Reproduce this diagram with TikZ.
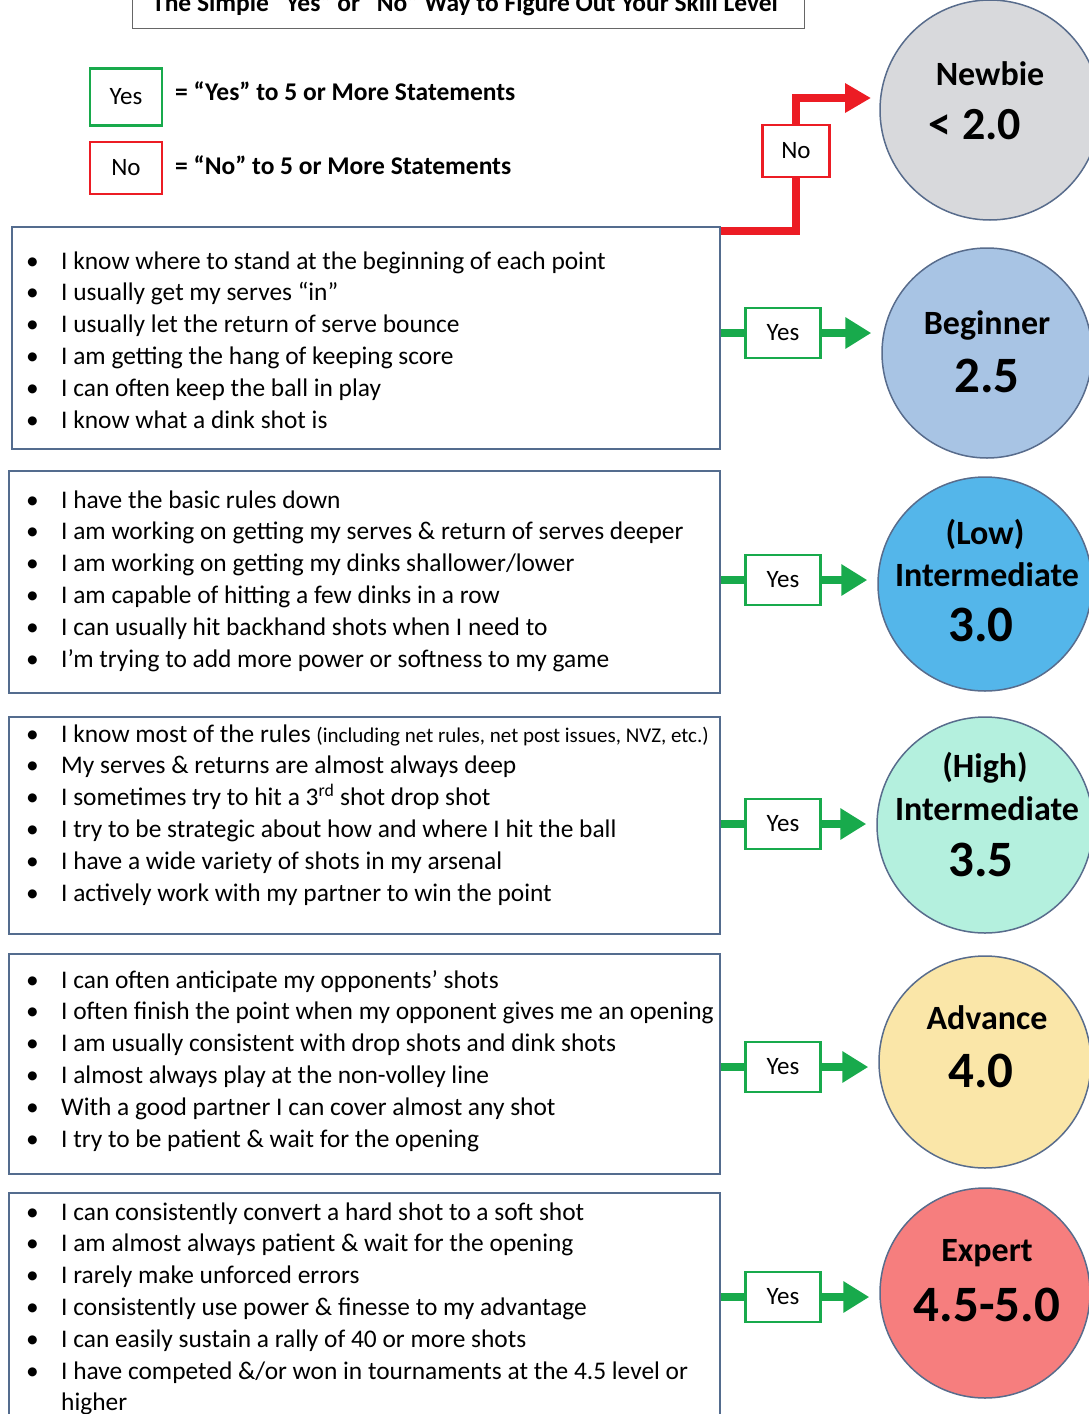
\documentclass[tikz,border=0pt]{standalone}
\usepackage{fontspec}
\setmainfont{Carlito}
\usetikzlibrary{arrows.meta}
\definecolor{boxblue}{RGB}{84,108,142}
\definecolor{circedge}{RGB}{88,108,140}
\definecolor{gyes}{RGB}{24,170,76}
\definecolor{rno}{RGB}{236,28,36}
\definecolor{cnew}{RGB}{216,217,220}
\definecolor{cbeg}{RGB}{168,196,228}
\definecolor{clow}{RGB}{84,182,234}
\definecolor{chigh}{RGB}{180,240,222}
\definecolor{cadv}{RGB}{250,230,168}
\definecolor{cexp}{RGB}{246,126,126}
\newcommand\bi{\makebox[35pt][l]{\textbullet}}
\newcommand\bodyfont{\fontsize{25.4}{31.8}\selectfont}
\begin{document}
\begin{tikzpicture}[x=1pt,y=-1pt,
  tbox/.style={draw=boxblue, line width=1.5pt, anchor=north west, inner sep=0},
  lines/.style={anchor=base west, inner sep=0},
  yesbox/.style={draw=gyes, line width=2.5pt, fill=white, minimum width=75pt, minimum height=50pt, inner sep=0, font=\fontsize{25}{28}\selectfont},
  nobox/.style={draw=rno, line width=2.5pt, fill=white, minimum width=72pt, minimum height=52pt, inner sep=0, font=\fontsize{25}{28}\selectfont},
  lvl/.style={circle, draw=circedge, line width=1.5pt, inner sep=0},
  lbl/.style={font=\bfseries\fontsize{34}{38}\selectfont, inner sep=0},
  num/.style={font=\bfseries\fontsize{51}{55}\selectfont, inner sep=0},
  gline/.style={draw=gyes, line width=8pt},
  garrow/.style={draw=gyes, line width=8pt, -{Triangle[length=26pt,width=30pt]}, shorten >=10pt},
  rline/.style={draw=rno, line width=8pt},
  rarrow/.style={draw=rno, line width=8pt, -{Triangle[length=26pt,width=28pt]}},
  legend/.style={anchor=base west, inner sep=0, font=\bfseries\fontsize{25.5}{28}\selectfont}
]
\useasboundingbox (0,0) rectangle (1089,1414);
\clip (0,0) rectangle (1089,1414);

% title
\node[draw=gray!80!black, line width=1.2pt, anchor=south west, minimum width=672pt, minimum height=60pt, inner sep=0] (titlebox) at (132,29) {};
\node[anchor=base, inner sep=0, font=\bfseries\fontsize{25.5}{28}\selectfont] (title) at (465,11) {The Simple “Yes” or “No” Way to Figure Out Your Skill Level};

% legend
\node[yesbox, minimum width=72pt, minimum height=57pt] (lyes) at (126,97) {Yes};
\node[legend] (lyestxt) at (175,100) {= “Yes” to 5 or More Statements};
\node[nobox] (lno) at (126,168) {No};
\node[legend] (lnotxt) at (175,174) {= “No” to 5 or More Statements};

% statement boxes
\node[tbox, minimum width=708pt, minimum height=222pt] (b1) at (11,226) {};
\node[lines] (t1) at (26,269) {\parbox[t]{720pt}{\bodyfont
\bi I know where to stand at the beginning of each point\\
\bi I usually get my serves “in”\\
\bi I usually let the return of serve bounce\\
\bi I am getting the hang of keeping score\\
\bi I can often keep the ball in play\\
\bi I know what a dink shot is}};

\node[tbox, minimum width=711pt, minimum height=222pt] (b2) at (8,470) {};
\node[lines] (t2) at (26,508) {\parbox[t]{720pt}{\bodyfont
\bi I have the basic rules down\\
\bi I am working on getting my serves \& return of serves deeper\\
\bi I am working on getting my dinks shallower/lower\\
\bi I am capable of hitting a few dinks in a row\\
\bi I can usually hit backhand shots when I need to\\
\bi I’m trying to add more power or softness to my game}};

\node[tbox, minimum width=711pt, minimum height=217pt] (b3) at (8,716) {};
\node[lines] (t3) at (26,742) {\parbox[t]{720pt}{\bodyfont
\bi I know most of the rules {\fontsize{21}{24}\selectfont (including net rules, net post issues, NVZ, etc.)}\\
\bi My serves \& returns are almost always deep\\
\bi I sometimes try to hit a 3\textsuperscript{rd} shot drop shot\\
\bi I try to be strategic about how and where I hit the ball\\
\bi I have a wide variety of shots in my arsenal\\
\bi I actively work with my partner to win the point}};

\node[tbox, minimum width=711pt, minimum height=220pt] (b4) at (8,953) {};
\node[lines] (t4) at (26,988) {\parbox[t]{720pt}{\bodyfont
\bi I can often anticipate my opponents’ shots\\
\bi I often finish the point when my opponent gives me an opening\\
\bi I am usually consistent with drop shots and dink shots\\
\bi I almost always play at the non-volley line\\
\bi With a good partner I can cover almost any shot\\
\bi I try to be patient \& wait for the opening}};

\node[tbox, minimum width=711pt, minimum height=300pt] (b5) at (8,1192) {};
\node[lines] (t5) at (26,1220) {\parbox[t]{720pt}{\bodyfont
\bi I can consistently convert a hard shot to a soft shot\\
\bi I am almost always patient \& wait for the opening\\
\bi I rarely make unforced errors\\
\bi I consistently use power \& finesse to my advantage\\
\bi I can easily sustain a rally of 40 or more shots\\
\bi I have competed \&/or won in tournaments at the 4.5 level or\\
\makebox[35pt][l]{}higher}};

% level circles
\node[lvl, fill=cnew, minimum size=220pt] (c0) at (990,110) {};
\node[lbl] (c0a) at (990,74) {Newbie};
\node[num, font=\bfseries\fontsize{46}{50}\selectfont] (c0b) at (975,125) {< 2.0};

\node[lvl, fill=cbeg, minimum size=210pt] (c1) at (987,353) {};
\node[lbl] (c1a) at (987,325) {Beginner};
\node[num] (c1b) at (987,376) {2.5};

\node[lvl, fill=clow, minimum size=214pt] (c2) at (985,584) {};
\node[lbl] (c2a) at (985,534) {(Low)};
\node[lbl] (c2b) at (987,575) {Intermediate};
\node[num] (c2c) at (981,625) {3.0};

\node[lvl, fill=chigh, minimum size=216pt] (c3) at (985,825) {};
\node[lbl] (c3a) at (985,768) {(High)};
\node[lbl] (c3b) at (987,809) {Intermediate};
\node[num] (c3c) at (981,860) {3.5};

\node[lvl, fill=cadv, minimum size=212pt] (c4) at (985,1062) {};
\node[lbl] (c4a) at (987,1018) {Advance};
\node[num] (c4b) at (981,1071) {4.0};

\node[lvl, fill=cexp, minimum size=210pt] (c5) at (985,1293) {};
\node[lbl] (c5a) at (987,1253) {Expert};
\node[num] (c5b) at (987,1305) {4.5-5.0};

% yes boxes and connectors
\node[yesbox] (y1) at (783,333) {Yes};
\node[yesbox] (y2) at (783,580) {Yes};
\node[yesbox] (y3) at (783,824) {Yes};
\node[yesbox] (y4) at (783,1067) {Yes};
\node[yesbox] (y5) at (783,1297) {Yes};
\foreach \i in {1,...,5}{
  \draw[gline] (y\i.west) -- (y\i.west -| b\i.east);
  \draw[garrow] (y\i.east) -- (y\i.east -| c\i.west);
}

% no connector
\node[nobox, minimum width=67pt] (no) at (796,151) {No};
\coordinate (ntip) at (871,98);
\draw[rline] ([yshift=-5pt]b1.north east) -| (no.south);
\draw[rarrow] (no.north) |- (ntip);
\end{tikzpicture}
\end{document}
